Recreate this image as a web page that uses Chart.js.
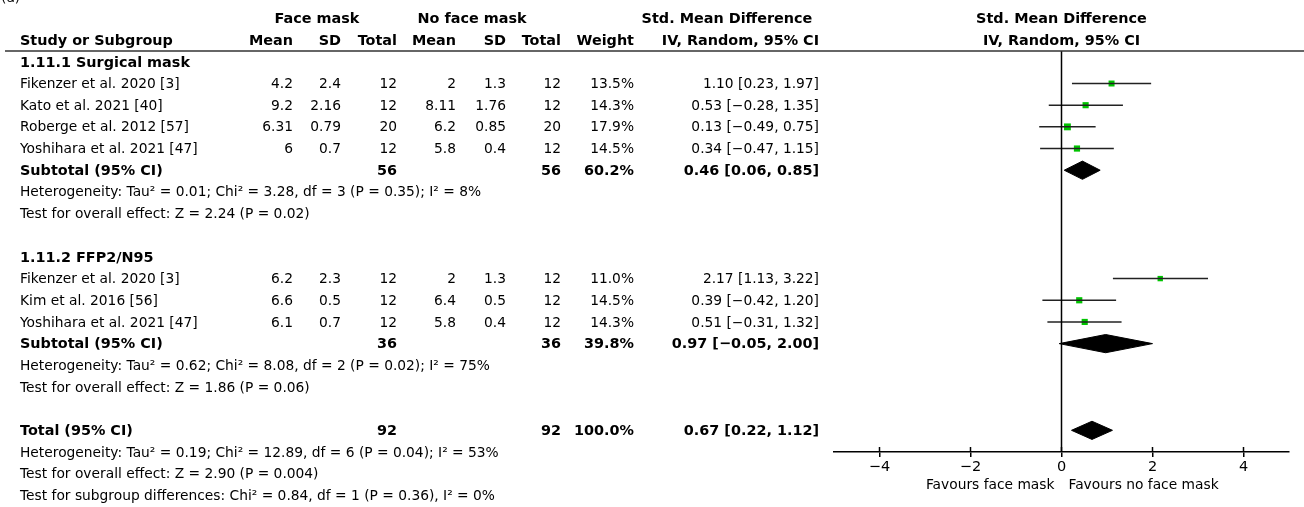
<!DOCTYPE html>
<html lang="en">
<head>
  <meta charset="UTF-8" />
  <title>Forest plot - face mask</title>
  <style>
    body { background-color: #ffffff; margin: 0; padding: 0; }
    #wrap { width: 1304px; height: 507px; }
  </style>
  <script src="https://cdn.jsdelivr.net/npm/chart.js"></script>
</head>
<body>
  <div id="wrap"><canvas id="forest" width="1304" height="507"></canvas></div>

  <script>
    // study level data
    const studies = ["Fikenzer et al. 2020 [3]", "Kato et al. 2021 [40]", "Roberge et al. 2012 [57]", "Yoshihara et al. 2021 [47]",
                     "Fikenzer et al. 2020 [3]", "Kim et al. 2016 [56]", "Yoshihara et al. 2021 [47]"];
    const studyGroup = [0, 0, 0, 0, 1, 1, 1];
    const maskMean = [4.2, 9.2, 6.31, 6, 6.2, 6.6, 6.1];
    const maskSD = [2.4, 2.16, 0.79, 0.7, 2.3, 0.5, 0.7];
    const maskN = [12, 12, 20, 12, 12, 12, 12];
    const noMaskMean = [2, 8.11, 6.2, 5.8, 2, 6.4, 5.8];
    const noMaskSD = [1.3, 1.76, 0.85, 0.4, 1.3, 0.5, 0.4];
    const noMaskN = [12, 12, 20, 12, 12, 12, 12];
    const weight = [13.5, 14.3, 17.9, 14.5, 11.0, 14.5, 14.3];
    const smd = [1.10, 0.53, 0.13, 0.34, 2.17, 0.39, 0.51];
    const ciLow = [0.23, -0.28, -0.49, -0.47, 1.13, -0.42, -0.31];
    const ciHigh = [1.97, 1.35, 0.75, 1.15, 3.22, 1.20, 1.32];

    // subgroups and total
    const groupNames = ["1.11.1 Surgical mask", "1.11.2 FFP2/N95"];
    const pooledLabels = ["Subtotal (95% CI)", "Subtotal (95% CI)", "Total (95% CI)"];
    const pooledMaskN = [56, 36, 92];
    const pooledNoMaskN = [56, 36, 92];
    const pooledWeight = [60.2, 39.8, 100.0];
    const pooledSmd = [0.46, 0.97, 0.67];
    const pooledLow = [0.06, -0.05, 0.22];
    const pooledHigh = [0.85, 2.00, 1.12];
    const heterogeneity = [
      "Heterogeneity: Tau² = 0.01; Chi² = 3.28, df = 3 (P = 0.35); I² = 8%",
      "Heterogeneity: Tau² = 0.62; Chi² = 8.08, df = 2 (P = 0.02); I² = 75%",
      "Heterogeneity: Tau² = 0.19; Chi² = 12.89, df = 6 (P = 0.04); I² = 53%"
    ];
    const overallEffect = [
      "Test for overall effect: Z = 2.24 (P = 0.02)",
      "Test for overall effect: Z = 1.86 (P = 0.06)",
      "Test for overall effect: Z = 2.90 (P = 0.004)"
    ];
    const subgroupTest = "Test for subgroup differences: Chi² = 0.84, df = 1 (P = 0.36), I² = 0%";

    const tickValues = [-4, -2, 0, 2, 4];
    const favoursLeft = "Favours face mask";
    const favoursRight = "Favours no face mask";

    const FONT = '"DejaVu Sans", sans-serif';
    const FS = 13.8;
    const FS_BOLD = 14.4;
    const DIAMOND_H = 0.42;

    // row layout: each text line is one row on the hidden y scale
    const rows = [];
    let r = 0;
    for (let g = 0; g < 2; g++) {
      rows.push({ type: 'group', g: g, row: r++ });
      studies.forEach((s, i) => { if (studyGroup[i] === g) rows.push({ type: 'study', i: i, row: r++ }); });
      rows.push({ type: 'pooled', p: g, row: r++ });
      rows.push({ type: 'note', text: heterogeneity[g], row: r++ });
      rows.push({ type: 'note', text: overallEffect[g], row: r++ });
      r++;
    }
    rows.push({ type: 'pooled', p: 2, row: r++ });
    rows.push({ type: 'note', text: heterogeneity[2], row: r++ });
    rows.push({ type: 'note', text: overallEffect[2], row: r++ });
    rows.push({ type: 'note', text: subgroupTest, row: r++ });

    const fmt = v => (v < 0 ? '\u2212' : '') + Math.abs(v).toFixed(2);
    const ciText = (e, lo, hi) => `${fmt(e)} [${fmt(lo)}, ${fmt(hi)}]`;

    // column right edges of the table
    const col = { mMean: 293, mSD: 341, mN: 397, nMean: 456, nSD: 506, nN: 561, w: 634, ci: 819 };

    const datasets = [];
    // line of no effect
    datasets.push({ type: 'line', data: [{ x: 0, y: -0.5 }, { x: 0, y: 18 }], borderColor: '#000', borderWidth: 1.5, pointRadius: 0 });
    // confidence intervals
    rows.filter(o => o.type === 'study').forEach(o => {
      datasets.push({ type: 'line', data: [{ x: ciLow[o.i], y: o.row }, { x: ciHigh[o.i], y: o.row }],
        borderColor: '#222', borderWidth: 1.5, pointRadius: 0 });
    });
    // study squares
    const studyRows = rows.filter(o => o.type === 'study');
    datasets.push({ type: 'scatter', data: studyRows.map(o => ({ x: smd[o.i], y: o.row })),
      pointStyle: 'rect', backgroundColor: '#00c400', borderWidth: 0,
      pointRadius: ctx => Math.sqrt(weight[studyRows[ctx.dataIndex].i]) * 1.15 });
    // diamonds
    rows.filter(o => o.type === 'pooled').forEach(o => {
      const p = o.p;
      datasets.push({ type: 'line', data: [
          { x: pooledLow[p], y: o.row }, { x: pooledSmd[p], y: o.row - DIAMOND_H },
          { x: pooledHigh[p], y: o.row }, { x: pooledSmd[p], y: o.row + DIAMOND_H },
          { x: pooledLow[p], y: o.row }],
        borderColor: '#000', borderWidth: 1, backgroundColor: '#000', fill: 'shape', pointRadius: 0, tension: 0 });
    });

    const tablePlugin = {
      id: 'tablePlugin',
      afterDraw(chart) {
        const ctx = chart.ctx;
        const y = chart.scales.y;
        const x = chart.scales.x;
        const yy = v => y.getPixelForValue(v) + 1;
        ctx.save();
        ctx.fillStyle = '#000';
        ctx.textBaseline = 'middle';
        const txt = (s, px, row, align, bold) => {
          ctx.font = bold ? `bold ${FS_BOLD}px ${FONT}` : `${FS}px ${FONT}`;
          ctx.textAlign = align;
          ctx.fillText(s, px, yy(row));
        };

        // panel label, mostly cut off at the top
        ctx.font = `${FS}px ${FONT}`;
        ctx.textAlign = 'left';
        ctx.textBaseline = 'alphabetic';
        ctx.fillText('(a)', 1, 2);
        ctx.textBaseline = 'middle';

        // headers
        txt('Face mask', 317, -2, 'center', true);
        txt('No face mask', 472, -2, 'center', true);
        txt('Std. Mean Difference', 727, -2, 'center', true);
        txt('Std. Mean Difference', x.getPixelForValue(0), -2, 'center', true);
        txt('Study or Subgroup', 20, -1, 'left', true);
        txt('Mean', col.mMean, -1, 'right', true);
        txt('SD', col.mSD, -1, 'right', true);
        txt('Total', col.mN, -1, 'right', true);
        txt('Mean', col.nMean, -1, 'right', true);
        txt('SD', col.nSD, -1, 'right', true);
        txt('Total', col.nN, -1, 'right', true);
        txt('Weight', col.w, -1, 'right', true);
        txt('IV, Random, 95% CI', col.ci, -1, 'right', true);
        txt('IV, Random, 95% CI', x.getPixelForValue(0), -1, 'center', true);

        rows.forEach(o => {
          if (o.type === 'group') {
            txt(groupNames[o.g], 20, o.row, 'left', true);
          } else if (o.type === 'study') {
            const i = o.i;
            txt(studies[i], 20, o.row, 'left', false);
            txt(String(maskMean[i]), col.mMean, o.row, 'right', false);
            txt(String(maskSD[i]), col.mSD, o.row, 'right', false);
            txt(String(maskN[i]), col.mN, o.row, 'right', false);
            txt(String(noMaskMean[i]), col.nMean, o.row, 'right', false);
            txt(String(noMaskSD[i]), col.nSD, o.row, 'right', false);
            txt(String(noMaskN[i]), col.nN, o.row, 'right', false);
            txt(weight[i].toFixed(1) + '%', col.w, o.row, 'right', false);
            txt(ciText(smd[i], ciLow[i], ciHigh[i]), col.ci, o.row, 'right', false);
          } else if (o.type === 'pooled') {
            const p = o.p;
            txt(pooledLabels[p], 20, o.row, 'left', true);
            txt(String(pooledMaskN[p]), col.mN, o.row, 'right', true);
            txt(String(pooledNoMaskN[p]), col.nN, o.row, 'right', true);
            txt(pooledWeight[p].toFixed(1) + '%', col.w, o.row, 'right', true);
            txt(ciText(pooledSmd[p], pooledLow[p], pooledHigh[p]), col.ci, o.row, 'right', true);
          } else {
            txt(o.text, 20, o.row, 'left', false);
          }
        });

        // rule under the headers
        ctx.strokeStyle = '#333';
        ctx.lineWidth = 1.5;
        ctx.beginPath();
        ctx.moveTo(5, y.getPixelForValue(-0.5));
        ctx.lineTo(1304, y.getPixelForValue(-0.5));
        ctx.stroke();

        // upper half of the tick marks
        const base = chart.chartArea.bottom;
        ctx.strokeStyle = '#000';
        tickValues.forEach(v => {
          const px = x.getPixelForValue(v);
          ctx.beginPath();
          ctx.moveTo(px, base - 5);
          ctx.lineTo(px, base);
          ctx.stroke();
        });

        // favours labels
        const zx = x.getPixelForValue(0);
        ctx.font = `${FS}px ${FONT}`;
        ctx.textAlign = 'right';
        ctx.fillText(favoursLeft, zx - 7, 485);
        ctx.textAlign = 'left';
        ctx.fillText(favoursRight, zx + 7, 485);
        ctx.restore();
      }
    };

    new Chart(document.getElementById('forest').getContext('2d'), {
      type: 'scatter',
      data: { datasets: datasets },
      options: {
        responsive: false,
        animation: false,
        events: [],
        layout: { padding: { left: 834, right: 15, top: 51, bottom: 35 } },
        plugins: { legend: { display: false }, tooltip: { enabled: false } },
        scales: {
          x: {
            type: 'linear', min: -5, max: 5,
            afterBuildTicks: scale => { scale.ticks = tickValues.map(v => ({ value: v })); },
            afterFit: scale => { scale.height = 20; },
            grid: { display: true, drawOnChartArea: false, drawTicks: true, tickLength: 5, color: '#000', lineWidth: 1.5 },
            border: { display: true, color: '#000', width: 1.5 },
            ticks: {
              padding: 2, color: '#000', font: { family: FONT, size: 14.5 },
              callback: v => (v < 0 ? '\u2212' : '') + Math.abs(v)
            }
          },
          y: { type: 'linear', reverse: true, min: -0.5, max: 18, display: false }
        }
      },
      plugins: [tablePlugin]
    });
  </script>
</body>
</html>
